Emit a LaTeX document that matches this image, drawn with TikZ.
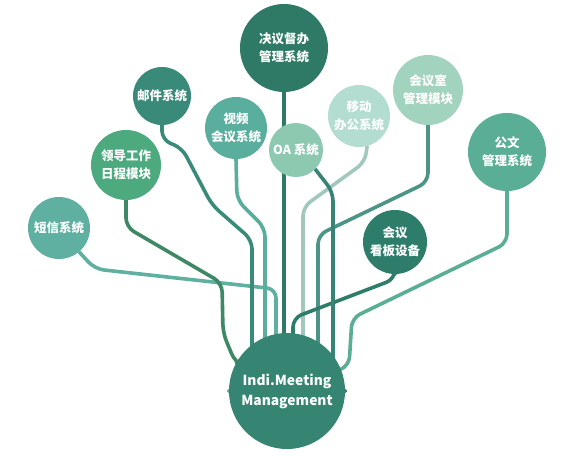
\documentclass[tikz,border=0pt]{standalone}
\usepackage{fontspec}
\usepackage{tikz}
\usetikzlibrary{positioning,backgrounds}
\newfontfamily\cjk{Noto Sans CJK SC}
\definecolor{DeepGreen}{HTML}{2F7A66}
\definecolor{CoreGreen}{HTML}{358572}
\definecolor{MailGreen}{HTML}{3A8A7A}
\definecolor{VideoGreen}{HTML}{5AAE9E}
\definecolor{OAGreen}{HTML}{8CC9B0}
\definecolor{MobileGreen}{HTML}{B4DDD2}
\definecolor{RoomGreen}{HTML}{A2D3BE}
\definecolor{DocGreen}{HTML}{5AAE96}
\definecolor{PlanGreen}{HTML}{4DAA7E}
\definecolor{SmsGreen}{HTML}{5FB0A0}
\definecolor{BoardGreen}{HTML}{2E7D6B}

\begin{document}
\begin{tikzpicture}[x=1pt, y=-1pt,
  bubble/.style={circle, inner sep=0pt, text=white, align=center, font=\cjk\bfseries\fontsize{12.5}{18}\selectfont},
  branch/.style={line width=3.6pt, rounded corners=9pt, line cap=round}]
\useasboundingbox (0,0) rectangle (580,457);

\node[bubble, fill=DeepGreen, minimum size=88pt] (jueyi) at (284,48) {决议督办\\管理系统};
\node[bubble, fill=MailGreen, minimum size=58pt] (youjian) at (162,96) {邮件系统};
\node[bubble, fill=VideoGreen, minimum size=62pt] (shipin) at (236,128) {视频\\会议系统};
\node[bubble, fill=OAGreen, minimum size=54pt] (oa) at (296,150) {OA 系统};
\node[bubble, fill=MobileGreen, minimum size=62pt] (yidong) at (359,116) {移动\\办公系统};
\node[bubble, fill=RoomGreen, minimum size=70pt] (huiyishi) at (428,90) {会议室\\管理模块};
\node[bubble, fill=DocGreen, minimum size=78pt] (gongwen) at (507,152) {公文\\管理系统};
\node[bubble, fill=PlanGreen, minimum size=70pt] (lingdao) at (126,165) {领导工作\\日程模块};
\node[bubble, fill=SmsGreen, minimum size=62pt] (duanxin) at (59,228) {短信系统};
\node[bubble, fill=BoardGreen, minimum size=64pt] (kanban) at (395,242) {会议\\看板设备};
\node[bubble, fill=CoreGreen, minimum size=116pt, font=\cjk\bfseries\fontsize{13.8}{20}\selectfont] (core) at (287,391) {Indi.Meeting\\Management};

\begin{scope}[on background layer]
\fill[white] (0,0) rectangle (580,457);
\draw[branch, draw=MobileGreen!90!black] (yidong.-75) -- (365,162) -- (303,207) |- (core);
\draw[branch, draw=SmsGreen] (duanxin.-50) -- (95,269) -- (276,289) |- (core);
\draw[branch, draw=PlanGreen!80!black] (lingdao.south) -- (126,227) -- (222,283) -- (223,333) -- (235,362) -- (core);
\draw[branch, draw=MailGreen] (youjian.south) -- (162,140) -- (182,148) -- (212,205) -- (252,240) |- (core);
\draw[branch, draw=VideoGreen] (shipin.south) -- (237,200) -- (265,228) |- (core);
\draw[branch, draw=DeepGreen] (jueyi.south) -- (jueyi.south |- core);
\draw[branch, draw=VideoGreen!85!black] (huiyishi.south) -- (428,182) -- (318,235) |- (core);
\draw[branch, draw=DocGreen] (gongwen.south) -- (507,243) -- (352,318) -- (349,366) -- (core);
\draw[branch, draw=BoardGreen] (kanban.south) -- (395,279) -- (293,318) |- (core);
\draw[branch, draw=MailGreen!95!black] (oa.-45) -- (333,192) |- (core);
\end{scope}
\end{tikzpicture}
\end{document}
